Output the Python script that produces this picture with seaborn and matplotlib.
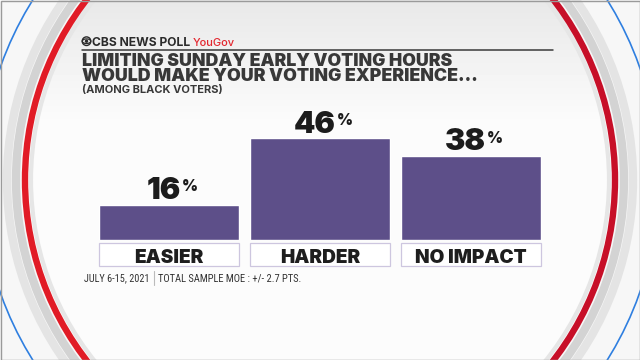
import numpy as np
import pandas as pd
import matplotlib
matplotlib.use("Agg")
import matplotlib.pyplot as plt
import seaborn as sns
from matplotlib import font_manager as fm
from matplotlib.patches import Circle, Ellipse, Rectangle, Arc

# Data
categories = ["EASIER", "HARDER", "NO IMPACT"]
values = [16, 46, 38]
value_labels = ["16", "46", "38"]

title_lines = ["LIMITING SUNDAY EARLY VOTING HOURS",
               "WOULD MAKE YOUR VOTING EXPERIENCE..."]
subtitle = "(AMONG BLACK VOTERS)"
foot_date = "JULY 6-15, 2021"
foot_moe = "TOTAL SAMPLE MOE : +/- 2.7 PTS."

df = pd.DataFrame({"answer": categories, "pct": values})

sns.set_theme(style="white")
plt.rcParams["font.family"] = ["Lato", "DejaVu Sans"]


def pick(names, wmin, wmax=1000, fallback=("Inter", 900)):
    for name in names:
        for f in fm.fontManager.ttflist:
            w = f.weight if isinstance(f.weight, int) else fm.weight_dict.get(f.weight, 400)
            if f.name == name and f.style == "normal" and wmin <= w <= wmax:
                return fm.FontProperties(fname=f.fname)
    return fm.FontProperties(family=fallback[0], weight=fallback[1])


heavy = pick(["Montserrat Black", "Montserrat ExtraBold", "Montserrat", "Inter"], 800)
semi = pick(["Montserrat SemiBold", "Montserrat", "Inter"], 600, 700, ("Inter", 600))
medium = pick(["Montserrat Medium", "Montserrat", "Inter"], 500, 500, ("Inter", 500))
bold = pick(["Montserrat Bold", "Montserrat", "Inter"], 700, 700, ("Inter", 700))
narrow = fm.FontProperties(family="Roboto Condensed")

BAR = "#5d4f89"
DARK = "#383838"

fig = plt.figure(figsize=(6.4, 3.6), dpi=100)
fig.patch.set_facecolor("#f7f7f7")
rend = fig.canvas.get_renderer()


def fit(t, target):
    w = t.get_window_extent(rend).width
    t.set_fontsize(t.get_fontsize() * target / w)
    return t


# background decoration, pixel coordinates
bg = fig.add_axes([0, 0, 1, 1], zorder=0)
bg.set_xlim(0, 640)
bg.set_ylim(360, 0)
bg.axis("off")
bg.set_facecolor("none")

cx, cy = 320, 180
bg.add_patch(Circle((cx, cy), 339, fill=False, ec="#2f7fe0", lw=1.2))
bg.add_patch(Circle((cx, cy), 313, fill=False, ec="#e4e4e4", lw=6))
bg.add_patch(Circle((cx, cy), 304, fill=False, ec="#d3d3d3", lw=6))
inner = Circle((cx, cy), 293, fc="#fbfbfb", ec="none")
bg.add_patch(inner)
grad = np.linspace(0.91, 0.985, 120)
grad = np.concatenate([grad, np.full(240, 0.985)])
img = np.repeat(grad[:, None], 640, axis=1)
im = bg.imshow(img, cmap="gray", vmin=0, vmax=1, extent=[0, 640, 360, 0],
               aspect="auto", zorder=1)
im.set_clip_path(inner)
bg.add_patch(Circle((cx, cy), 289, fill=False, ec="#e6e6e6", lw=3, zorder=2))
bg.add_patch(Arc((cx, cy), 590, 590, theta1=90, theta2=270, ec="#e11b26", lw=4.6, zorder=3))
bg.add_patch(Arc((cx, cy), 590, 590, theta1=-90, theta2=90, ec="#c70f28", lw=4.6, zorder=3))
bg.add_patch(Rectangle((0.5, 0.5), 639, 359, fill=False, ec="#9a9a9a", lw=1, zorder=3))
bg.set_xlim(0, 640)
bg.set_ylim(360, 0)

# header
eye = "#2b2b2b"
bg.add_patch(Circle((86.5, 41.2), 4.3, fill=False, ec=eye, lw=1.0, zorder=4))
bg.add_patch(Ellipse((86.5, 41.2), 8.4, 4.6, fill=False, ec=eye, lw=0.9, zorder=4))
bg.add_patch(Circle((86.5, 41.2), 1.7, fc=eye, ec="none", zorder=4))
fit(bg.text(91.5, 45.5, "CBS NEWS POLL", fontproperties=bold, fontsize=8.6,
            color=eye, va="baseline", ha="left", zorder=4), 98)
fit(bg.text(193, 45.5, "YouGov", fontproperties=medium, fontsize=8.6, color="#e3262e",
            va="baseline", ha="left", zorder=4), 42)
bg.plot([82, 553], [49.5, 49.5], color="#3a3a3a", lw=1.1, zorder=4)

fit(bg.text(82, 65.5, title_lines[0], fontproperties=heavy, fontsize=12.6,
            color=DARK, va="baseline", ha="left", zorder=4), 371)
fit(bg.text(82, 81, title_lines[1], fontproperties=heavy, fontsize=12.6,
            color=DARK, va="baseline", ha="left", zorder=4), 396)
fit(bg.text(82, 93.5, subtitle, fontproperties=bold, fontsize=7.8,
            color=DARK, va="baseline", ha="left", zorder=4), 141)

# footnote
fit(bg.text(84.5, 281.5, foot_date, fontproperties=narrow, fontsize=7.2, color="#333333",
            va="baseline", ha="left", zorder=4), 65)
bg.plot([153.5, 153.5], [271, 285], color="#bbbbbb", lw=0.8, zorder=4)
fit(bg.text(158, 281.5, foot_moe, fontproperties=narrow, fontsize=7.2, color="#333333",
            va="baseline", ha="left", zorder=4), 143)

# bars
px_per = 2.207
ax = fig.add_axes([93.5 / 640, 120 / 360, 453 / 640, 50 * px_per / 360], zorder=2)
ax.set_facecolor("none")
sns.barplot(data=df, x="answer", y="pct", color=BAR, saturation=1,
            width=0.927, ax=ax)
ax.set_xlim(-0.5, 2.5)
ax.set_ylim(0, 50)
ax.axis("off")

cat_size = None
for i, (cat, v, lab) in enumerate(zip(categories, values, value_labels)):
    bar = ax.patches[i]
    x0 = bar.get_x()
    w = bar.get_width()
    # label box under the bar
    ax.add_patch(Rectangle((x0, -11.8), w, 10.4, fc="white", ec="#cdc6df",
                           lw=0.9, clip_on=False))
    t = ax.text(x0 + w / 2, -10.2, cat, ha="center", va="baseline",
                fontproperties=heavy, fontsize=12, color="#1e1e1e", clip_on=False)
    if cat_size is None:
        probe = ax.text(0, 0, "NO IMPACT", fontproperties=heavy, fontsize=12)
        cat_size = 12 * 112 / probe.get_window_extent(rend).width
        probe.remove()
    t.set_fontsize(cat_size)
    # value label with small percent sign
    t1 = ax.text(0, 0, lab, fontproperties=heavy, fontsize=22)
    t2 = ax.text(0, 0, "%", fontproperties=heavy, fontsize=11)
    wd = t1.get_window_extent(rend).width
    wp = t2.get_window_extent(rend).width
    t1.remove()
    t2.remove()
    gap = 1
    total = wd + gap + wp
    left = -total / 2 + 3
    ax.annotate(lab, xy=(x0 + w / 2, v + 2.7), xytext=((left + wd / 2) * 0.72, 0),
                textcoords="offset points", ha="center", va="baseline",
                fontproperties=heavy, fontsize=22, color="#1c1c1c")
    ax.annotate("%", xy=(x0 + w / 2, v + 2.7),
                xytext=((left + wd + gap) * 0.72, 19.5 * 0.72),
                textcoords="offset points", ha="left", va="top",
                fontproperties=heavy, fontsize=11, color="#1c1c1c")

fig.savefig("out.png", dpi=100)
